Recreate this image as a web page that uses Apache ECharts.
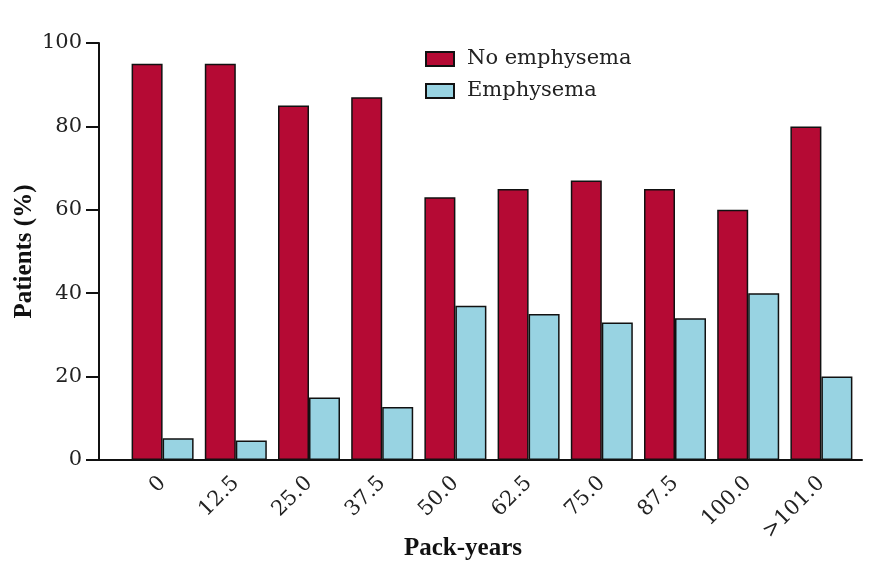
<!DOCTYPE html>
<html>
<head>
<meta charset="utf-8">
<script src="https://cdn.jsdelivr.net/npm/echarts@6/dist/echarts.min.js"></script>
<style>
html,body{margin:0;padding:0;background:#fff;}
#chart{width:872px;height:569px;}
</style>
</head>
<body>
<div id="chart"></div>
<script>
const categories = ['0', '12.5', '25.0', '37.5', '50.0', '62.5', '75.0', '87.5', '100.0', '>101.0'];
const noEmphysema = [95, 95, 85, 87, 63, 65, 67, 65, 60, 80];
const emphysema = [5.2, 4.7, 15, 12.7, 37, 35, 33, 34, 40, 20];
const yTicks = [0, 20, 40, 60, 80, 100];

const serif = 'DejaVu Serif';
const titleFont = 'Liberation Serif';
const chart = echarts.init(document.getElementById('chart'));
chart.setOption({
  animation: false,
  backgroundColor: '#fff',
  legend: {
    orient: 'vertical',
    left: 425,
    top: 47,
    padding: 0,
    itemWidth: 28,
    itemHeight: 14,
    itemGap: 8,
    icon: 'rect',
    textStyle: { fontFamily: serif, fontSize: 21, color: '#222', padding: [0, 0, 0, 8], lineHeight: 24 },
    data: ['No emphysema', 'Emphysema']
  },
  grid: [
    { left: 126, right: 14, top: 43, bottom: 109 },
    { left: 99, right: 10, top: 43, bottom: 109 }
  ],
  xAxis: [
    {
      type: 'category', gridIndex: 0, data: categories,
      axisLine: { show: false }, axisTick: { show: false },
      axisLabel: { rotate: 45, margin: 20, fontFamily: serif, fontSize: 21, color: '#222', interval: 0 }
    },
    {
      type: 'category', gridIndex: 1, data: [''],
      axisLine: { show: true, lineStyle: { color: '#111', width: 2 } },
      axisTick: { show: false }, axisLabel: { show: false }
    }
  ],
  yAxis: [
    { type: 'value', gridIndex: 0, min: 0, max: 100, show: false, splitLine: { show: false } },
    {
      type: 'value', gridIndex: 1, min: 0, max: 100, interval: 20,
      axisLine: { show: true, lineStyle: { color: '#111', width: 2 } },
      axisTick: { show: true, length: 13, lineStyle: { color: '#111', width: 2 } },
      axisLabel: { margin: 17, fontFamily: serif, fontSize: 21, color: '#222',
        formatter: v => yTicks.includes(v) ? String(v) : '' },
      splitLine: { show: false },
      name: 'Patients (%)', nameLocation: 'middle', nameGap: 62, nameMoveOverlap: false,
      nameTextStyle: { fontFamily: titleFont, fontWeight: 'bold', fontSize: 25, color: '#111' }
    }
  ],
  graphic: [{
    type: 'text', x: 463, y: 549,
    style: { text: 'Pack-years', fontFamily: titleFont, fontWeight: 'bold', fontSize: 25, fill: '#111',
      textAlign: 'center', textVerticalAlign: 'middle' }
  }],
  series: [
    {
      name: 'No emphysema', type: 'bar', xAxisIndex: 0, yAxisIndex: 0, data: noEmphysema,
      barWidth: 31, barGap: '0%',
      itemStyle: { color: '#B50A34', borderColor: '#111', borderWidth: 1.5 }
    },
    {
      name: 'Emphysema', type: 'bar', xAxisIndex: 0, yAxisIndex: 0, data: emphysema,
      barWidth: 31, barGap: '0%',
      itemStyle: { color: '#98D3E2', borderColor: '#111', borderWidth: 1.5 }
    }
  ]
});
</script>
</body>
</html>
